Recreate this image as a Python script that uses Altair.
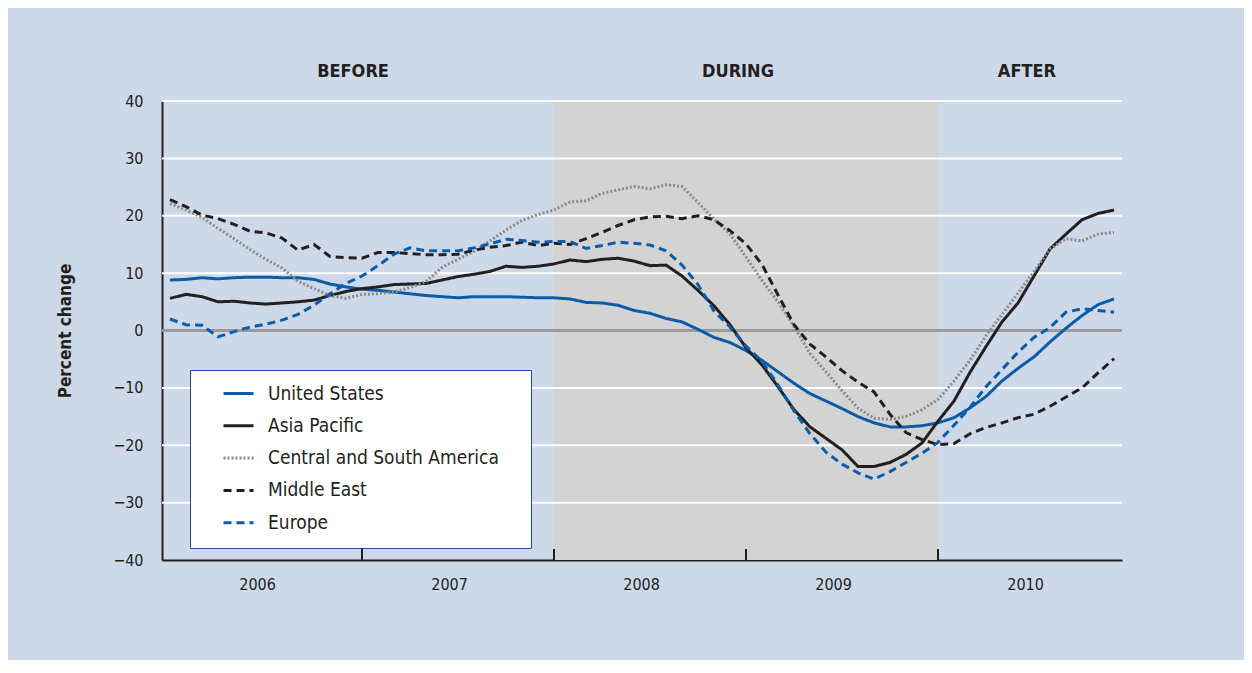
import altair as alt
import pandas as pd

FONT = "DejaVu Sans Condensed, Liberation Sans Narrow, Liberation Sans, Arial"
INK = "#231f20"
BLUE = "#0b5ca8"

# Monthly values, Jan 2006 (month 0) .. Dec 2010 (month 59)
months = list(range(60))

united_states = [
    8.8, 8.9, 9.2, 9.0, 9.2, 9.3, 9.3, 9.2, 9.2, 8.9, 8.1, 7.6,
    7.2, 7.0, 6.7, 6.4, 6.1, 5.9, 5.7, 5.9, 5.9, 5.9, 5.8, 5.7,
    5.7, 5.5, 4.9, 4.8, 4.4, 3.5, 3.0, 2.1, 1.5, 0.2, -1.2, -2.1,
    -3.5, -5.2, -7.2, -9.2, -11.0, -12.3, -13.6, -15.0, -16.1, -16.8, -16.8, -16.6,
    -16.1, -15.2, -13.5, -11.5, -8.8, -6.6, -4.6, -2.0, 0.4, 2.6, 4.5, 5.5,
]
asia_pacific = [
    5.6, 6.3, 5.9, 5.0, 5.1, 4.8, 4.6, 4.8, 5.0, 5.3, 6.1, 6.8,
    7.3, 7.6, 8.0, 8.1, 8.2, 8.8, 9.4, 9.8, 10.3, 11.2, 11.0, 11.2,
    11.6, 12.3, 12.0, 12.4, 12.6, 12.1, 11.3, 11.4, 9.5, 7.0, 4.3, 1.0,
    -3.0, -6.0, -9.8, -13.8, -16.8, -18.8, -20.8, -23.7, -23.7, -23.0, -21.6, -19.6,
    -15.8, -12.3, -7.3, -2.8, 1.5, 4.8, 9.5, 14.2, 16.8, 19.3, 20.4, 21.0,
]
central_south_america = [
    22.1, 21.0, 19.7, 17.8, 16.0, 14.1, 12.4, 10.9, 8.6, 7.3, 6.1, 5.6,
    6.3, 6.4, 6.7, 7.5, 8.5, 11.0, 12.4, 13.8, 15.6, 17.5, 19.2, 20.2,
    21.0, 22.4, 22.6, 23.9, 24.5, 25.1, 24.7, 25.4, 25.1, 22.3, 19.4, 16.8,
    12.8, 8.7, 5.0, 0.7, -4.0, -7.2, -10.5, -13.5, -15.3, -15.5, -15.0, -13.8,
    -12.0, -8.8, -5.2, -0.9, 2.8, 6.5, 10.3, 14.2, 16.0, 15.6, 16.8, 17.1,
]
middle_east = [
    22.8, 21.6, 20.1, 19.5, 18.5, 17.3, 17.0, 16.1, 14.0, 15.0, 12.9, 12.7,
    12.6, 13.6, 13.6, 13.4, 13.2, 13.2, 13.3, 14.0, 14.5, 14.8, 15.4, 14.8,
    15.2, 15.0, 16.0, 17.1, 18.3, 19.3, 19.8, 19.9, 19.5, 20.0, 19.3, 17.4,
    15.1, 11.5, 6.2, 1.0, -2.4, -4.6, -7.0, -9.0, -10.7, -14.6, -17.8, -19.0,
    -19.9, -19.7, -18.0, -16.9, -16.1, -15.2, -14.6, -13.2, -11.6, -10.0, -7.4, -4.9,
]
europe = [
    2.0, 1.0, 0.9, -1.1, -0.2, 0.6, 1.1, 1.8, 2.8, 4.4, 6.4, 8.2,
    9.5, 11.3, 13.3, 14.4, 13.9, 13.9, 13.9, 14.4, 15.1, 15.9, 15.7, 15.4,
    15.5, 15.5, 14.3, 14.8, 15.4, 15.2, 14.9, 13.9, 11.4, 8.0, 3.4, 0.6,
    -2.7, -5.4, -9.5, -14.0, -18.0, -21.2, -23.3, -24.8, -25.9, -24.6, -23.0, -21.4,
    -19.5, -16.5, -13.4, -9.8, -6.8, -3.8, -1.2, 0.5, 3.2, 3.8, 3.5, 3.2,
]

regions = ["United States", "Asia Pacific", "Central and South America", "Middle East", "Europe"]
region_colors = [BLUE, INK, "#8a8a8a", INK, BLUE]
region_dashes = [[1, 0], [1, 0], [2, 2], [8, 5], [8, 5]]
series = [united_states, asia_pacific, central_south_america, middle_east, europe]

# Periods, ticks, labels
period_start = [24]
period_end = [48]
grid_values = [40, 30, 20, 10, -10, -20, -30]
year_boundaries = [12, 24, 36, 48]
year_label_positions = [5.44, 17.44, 29.44, 41.44, 53.44]
y_ticks = [-40, -30, -20, -10, 0, 10, 20, 30, 40]
header_labels = ["BEFORE", "DURING", "AFTER"]
header_positions = [11.44, 35.5, 53.56]

rows = []
for name, vals in zip(regions, series):
    for m, v in zip(months, vals):
        rows.append({"month": m, "value": v, "region": name})
df = pd.DataFrame(rows)

x_scale = alt.Scale(domain=[-0.5, 59.5], nice=False, zero=False)
y_scale = alt.Scale(domain=[-40, 40], nice=False, zero=False)

x_axis = alt.Axis(
    values=year_label_positions,
    labelExpr="toString(2006 + floor(datum.value / 12))",
    ticks=False, tickSize=0, grid=False, title=None,
    domainColor=INK, domainWidth=2,
    labelFont=FONT, labelFontSize=16, labelColor=INK, labelPadding=16,
)
y_axis = alt.Axis(
    values=y_ticks,
    labelExpr="datum.value < 0 ? '\u2212' + abs(datum.value) : '' + datum.value",
    ticks=False, tickSize=0, grid=False,
    title="Percent change", titleFont=FONT, titleFontSize=17, titleFontWeight="bold",
    titleColor=INK, titleX=-97, titleY=229.5, titleAngle=270, titleBaseline="middle",
    domainColor=INK, domainWidth=2,
    labelFont=FONT, labelFontSize=16, labelColor=INK, labelPadding=19,
)

X = lambda f="month": alt.X(f"{f}:Q", scale=x_scale, axis=x_axis)
Y = lambda f="value": alt.Y(f"{f}:Q", scale=y_scale, axis=y_axis)

shade_df = pd.DataFrame({"month": period_start, "month_end": period_end,
                         "value": [-40], "value_end": [40]})
shade = alt.Chart(shade_df).mark_rect(color="#d3d3d4").encode(
    x=X(), x2="month_end:Q", y=Y(), y2="value_end:Q"
)

grid = alt.Chart(pd.DataFrame({"value": grid_values})).mark_rule(
    color="white", strokeWidth=2
).encode(y=Y())

zero = alt.Chart(pd.DataFrame({"value": [0]})).mark_rule(
    color="#9b9b9b", strokeWidth=3
).encode(y=Y())

legend = alt.Legend(
    orient="none", legendX=28, legendY=269,
    title="\u2003", titleOrient="bottom", titleFontSize=6, titlePadding=2,
    fillColor="white", strokeColor="#1f4f9d", padding=7,
    symbolType="stroke", symbolSize=900, symbolStrokeWidth=3,
    symbolOffset=25, labelOffset=13, rowPadding=5.3, labelLimit=500,
    labelFont=FONT, labelFontSize=19, labelColor=INK,
    labelExpr="datum.label == 'Central and South America' ? datum.label + '\u2800\u2800' : datum.label",
)

lines = alt.Chart(df).mark_line(strokeWidth=3, strokeCap="butt").encode(
    x=X(), y=Y(),
    color=alt.Color("region:N", scale=alt.Scale(domain=regions, range=region_colors), legend=legend),
    strokeDash=alt.StrokeDash("region:N", scale=alt.Scale(domain=regions, range=region_dashes), legend=legend),
    order=alt.Order("month:Q"),
)

ticks_df = pd.DataFrame({"month": year_boundaries, "value": [-40] * 4, "value_end": [-38.1] * 4})
ticks = alt.Chart(ticks_df).mark_rule(color=INK, strokeWidth=2).encode(
    x=X(), y=Y(), y2="value_end:Q"
)

headers = alt.Chart(pd.DataFrame({"month": header_positions, "label": header_labels})).mark_text(
    font=FONT, fontSize=18, fontWeight="bold", color=INK, baseline="middle", align="center"
).encode(x=X(), y=alt.value(-29), text="label:N")

chart = alt.layer(shade, grid, zero, lines, ticks, headers).properties(
    width=960, height=459,
    autosize=alt.AutoSizeParams(type="none"),
    padding={"left": 154, "top": 93, "right": 122, "bottom": 100},
    background="#cdd9e8",
).configure_view(stroke=None)

chart.save("out.html", embed_options={"renderer": "svg", "actions": False})
